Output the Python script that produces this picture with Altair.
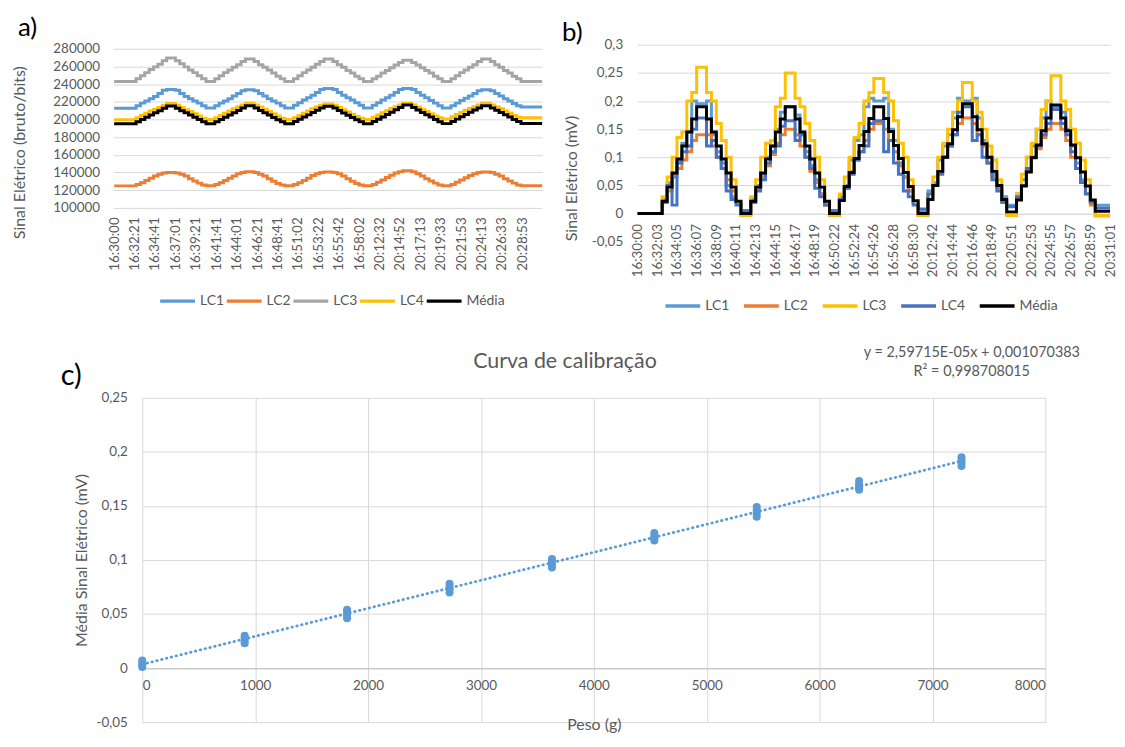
import altair as alt
import pandas as pd

FONT = "Lato"
TXT = "#595959"
GRID = "#D9D9D9"

# ---------------- shared time grid (sample index of each step) ----------------
T_STEPS = [0,
           15, 18, 21, 24, 27, 30, 33, 36, 42, 45, 48, 51, 54, 57, 60, 63,
           69, 72, 75, 78, 81, 84, 87, 90, 96, 99, 102, 105, 108, 111, 114, 117,
           123, 126, 129, 132, 135, 138, 141, 144, 150, 153, 156, 159, 162, 165, 168, 171,
           177, 180, 183, 186, 189, 192, 195, 198, 204, 207, 210, 213, 216, 219, 222, 225,
           231, 234, 237, 240, 243, 246, 249, 252, 258, 261, 264, 267, 270, 273, 276, 279]
T_END_A = 293.5
T_END_B = 288

LABELS_A = ["16:30:00", "16:32:21", "16:34:41", "16:37:01", "16:39:21", "16:41:41",
            "16:44:01", "16:46:21", "16:48:41", "16:51:02", "16:53:22", "16:55:42",
            "16:58:02", "20:12:32", "20:14:52", "20:17:13", "20:19:33", "20:21:53",
            "20:24:13", "20:26:33", "20:28:53"]
LABELS_B = ["16:30:00", "16:32:03", "16:34:05", "16:36:07", "16:38:09", "16:40:11",
            "16:42:13", "16:44:15", "16:46:17", "16:48:19", "16:50:22", "16:52:24",
            "16:54:26", "16:56:28", "16:58:30", "20:12:42", "20:14:44", "20:16:46",
            "20:18:49", "20:20:51", "20:22:53", "20:24:55", "20:26:57", "20:28:59",
            "20:31:01"]
LABEL_STEP_A = 14
LABEL_STEP_B = 12

SERIES = ["LC1", "LC2", "LC3", "LC4", "Média"]
COLORS_A = ["#5B9BD5", "#ED7D31", "#A5A5A5", "#FFC000", "#000000"]
COLORS_B = ["#5B9BD5", "#ED7D31", "#FFC000", "#4472C4", "#000000"]

# ---------------- panel a: raw signal (bits) ----------------
A_LC1 = [212700,
         215500, 218500, 221000, 223500, 226000, 229500, 233000, 234000, 233000, 229500, 226000, 223500, 221000, 218500, 215500, 213000,
         215500, 218500, 221000, 223500, 226500, 229500, 232500, 233500, 232500, 229500, 226500, 223500, 221000, 218500, 215500, 213000,
         216000, 219000, 222000, 224500, 227500, 230500, 234000, 235000, 234000, 230500, 227500, 224500, 222000, 219000, 216000, 213000,
         216000, 219000, 222000, 224500, 227500, 230500, 234000, 235000, 234000, 230500, 227500, 224500, 221500, 218500, 215500, 213000,
         215500, 218500, 221500, 224000, 226500, 229500, 232500, 233500, 232500, 229500, 226500, 223500, 221000, 218000, 215500, 214000]
A_LC2 = [124900,
         126500, 128500, 131000, 133500, 136000, 138000, 139500, 140000, 139500, 138000, 136000, 133000, 130500, 128000, 126000, 125000,
         126500, 128500, 131000, 133500, 136000, 138500, 140000, 141000, 140000, 138000, 136000, 133000, 130000, 127500, 126000, 125000,
         126500, 128500, 131000, 133500, 136500, 138500, 140000, 140500, 140000, 138500, 136000, 133000, 130000, 127500, 126000, 125000,
         126500, 129000, 131500, 134500, 137000, 139500, 141000, 142000, 141000, 138500, 136000, 133000, 130500, 128000, 126000, 125000,
         126500, 129000, 131500, 134000, 136500, 138500, 140000, 140500, 140000, 138000, 136000, 133000, 130500, 128000, 126000, 125000]
A_LC3 = [243000,
         246000, 249500, 253000, 256500, 259500, 262500, 266500, 269500, 266500, 263000, 259500, 256000, 253000, 249500, 246000, 243000,
         246000, 249500, 253000, 256000, 259000, 262000, 265500, 268500, 265500, 262000, 259000, 256000, 252500, 249000, 246000, 243000,
         246000, 249500, 253000, 256000, 259000, 262500, 265500, 268500, 265500, 262000, 259000, 255500, 252500, 249000, 246000, 243000,
         246000, 249000, 252500, 255500, 258500, 261500, 264500, 267000, 264500, 261500, 258500, 255500, 252500, 249000, 246000, 243000,
         246000, 249500, 253000, 256000, 259000, 262000, 265500, 268500, 265500, 262000, 259000, 255500, 252500, 249000, 246000, 243000]
A_LC4 = [199600,
         202000, 204500, 207000, 209500, 211500, 213500, 216000, 218000, 216000, 213500, 211000, 209000, 206500, 204000, 201500, 200000,
         202000, 204500, 207000, 209500, 212000, 214000, 216500, 218500, 216500, 214000, 211500, 209000, 206500, 204000, 201500, 200000,
         202000, 204500, 207000, 209500, 212000, 214000, 216000, 217500, 216000, 213500, 211000, 208500, 206000, 203500, 201500, 200000,
         202500, 205000, 207500, 210000, 212500, 214500, 216500, 218500, 216500, 214000, 211500, 209000, 206500, 204000, 202000, 200500,
         203000, 205500, 208000, 210500, 212500, 214500, 216500, 218500, 216500, 214500, 212000, 209500, 207000, 204500, 202500, 202000]
A_MEDIA = [195100,
           197500, 200000, 202500, 205000, 207500, 210000, 212800, 215300, 212800, 210000, 207500, 205000, 202500, 200000, 197500, 195200,
           197500, 200000, 202500, 205000, 207600, 210200, 213000, 215500, 213000, 210200, 207600, 205000, 202300, 199800, 197500, 195200,
           197600, 200200, 202800, 205200, 207800, 210400, 212900, 215000, 212900, 210100, 207400, 204800, 202200, 199700, 197400, 195200,
           197700, 200300, 202900, 205500, 208200, 210900, 213600, 216300, 213600, 210600, 207900, 205300, 202700, 199900, 197400, 195300,
           197800, 200400, 203000, 205600, 208100, 210600, 213100, 215500, 213100, 210500, 208000, 205400, 202800, 200100, 197600, 195500]

# ---------------- panel b: signal in mV ----------------
B_LC1 = [0.0,
         0.02, 0.055, 0.065, 0.095, 0.125, 0.145, 0.2, 0.195, 0.2, 0.14, 0.11, 0.09, 0.05, 0.03, 0.02, 0.005,
         0.025, 0.05, 0.07, 0.1, 0.12, 0.15, 0.18, 0.19, 0.175, 0.14, 0.11, 0.085, 0.06, 0.035, 0.02, 0.005,
         0.03, 0.05, 0.095, 0.13, 0.14, 0.19, 0.205, 0.2, 0.205, 0.15, 0.13, 0.09, 0.065, 0.04, 0.02, 0.005,
         0.04, 0.055, 0.095, 0.12, 0.14, 0.17, 0.205, 0.2, 0.205, 0.17, 0.13, 0.1, 0.07, 0.05, 0.03, 0.015,
         0.035, 0.06, 0.1, 0.12, 0.15, 0.17, 0.2, 0.19, 0.18, 0.15, 0.12, 0.09, 0.06, 0.035, 0.02, 0.015]
B_LC2 = [0.0,
         0.025, 0.04, 0.07, 0.08, 0.095, 0.11, 0.13, 0.14, 0.14, 0.12, 0.1, 0.08, 0.06, 0.04, 0.02, -0.003,
         0.02, 0.045, 0.065, 0.085, 0.105, 0.125, 0.14, 0.15, 0.14, 0.12, 0.1, 0.075, 0.055, 0.035, 0.015, -0.003,
         0.025, 0.045, 0.075, 0.095, 0.11, 0.13, 0.15, 0.16, 0.15, 0.13, 0.11, 0.085, 0.065, 0.04, 0.02, -0.003,
         0.025, 0.05, 0.075, 0.1, 0.12, 0.14, 0.16, 0.17, 0.16, 0.14, 0.12, 0.09, 0.065, 0.045, 0.02, -0.003,
         0.025, 0.05, 0.075, 0.1, 0.115, 0.135, 0.15, 0.16, 0.15, 0.13, 0.1, 0.08, 0.055, 0.035, 0.015, -0.004]
B_LC3 = [0.0,
         0.03, 0.065, 0.1, 0.135, 0.145, 0.2, 0.215, 0.26, 0.215, 0.2, 0.16, 0.13, 0.1, 0.06, 0.02, -0.003,
         0.03, 0.06, 0.1, 0.125, 0.13, 0.19, 0.205, 0.25, 0.205, 0.19, 0.16, 0.13, 0.1, 0.06, 0.02, -0.003,
         0.035, 0.065, 0.1, 0.135, 0.16, 0.2, 0.215, 0.24, 0.215, 0.2, 0.165, 0.125, 0.1, 0.06, 0.02, -0.003,
         0.035, 0.065, 0.1, 0.125, 0.15, 0.18, 0.2, 0.233, 0.2, 0.18, 0.15, 0.12, 0.095, 0.06, 0.025, -0.003,
         0.035, 0.07, 0.1, 0.125, 0.15, 0.185, 0.2, 0.245, 0.2, 0.185, 0.15, 0.125, 0.095, 0.06, 0.02, -0.004]
B_LC4 = [0.0,
         0.02, 0.05, 0.015, 0.09, 0.11, 0.12, 0.15, 0.17, 0.12, 0.13, 0.1, 0.08, 0.04, 0.025, 0.015, 0.005,
         0.02, 0.04, 0.06, 0.09, 0.11, 0.12, 0.155, 0.165, 0.13, 0.14, 0.1, 0.08, 0.045, 0.03, 0.015, 0.005,
         0.025, 0.045, 0.07, 0.095, 0.11, 0.12, 0.16, 0.165, 0.11, 0.13, 0.09, 0.07, 0.04, 0.03, 0.015, 0.008,
         0.035, 0.05, 0.07, 0.1, 0.12, 0.14, 0.18, 0.19, 0.13, 0.14, 0.1, 0.09, 0.06, 0.04, 0.02, 0.012,
         0.03, 0.05, 0.08, 0.1, 0.12, 0.14, 0.16, 0.185, 0.16, 0.14, 0.11, 0.08, 0.055, 0.035, 0.02, 0.01]
B_MEDIA = [0.0,
           0.022, 0.047, 0.072, 0.097, 0.12, 0.145, 0.168, 0.19, 0.168, 0.145, 0.12, 0.097, 0.072, 0.047, 0.022, 0.0,
           0.022, 0.047, 0.072, 0.097, 0.12, 0.145, 0.168, 0.19, 0.168, 0.145, 0.12, 0.097, 0.072, 0.047, 0.022, 0.0,
           0.023, 0.048, 0.073, 0.098, 0.121, 0.146, 0.169, 0.19, 0.169, 0.146, 0.121, 0.098, 0.073, 0.048, 0.023, 0.0,
           0.025, 0.05, 0.075, 0.1, 0.124, 0.149, 0.172, 0.195, 0.172, 0.149, 0.124, 0.1, 0.075, 0.05, 0.025, 0.003,
           0.024, 0.049, 0.074, 0.099, 0.122, 0.147, 0.17, 0.193, 0.17, 0.147, 0.122, 0.099, 0.074, 0.049, 0.024, 0.004]

# ---------------- panel c: calibration points ----------------
PESO = [0, 907, 1814, 2722, 3629, 4536, 5443, 6350, 7257]
SINAL = [[0.001, 0.003, 0.005, 0.007],
         [0.023, 0.025, 0.028, 0.030],
         [0.046, 0.049, 0.052, 0.054],
         [0.070, 0.073, 0.075, 0.078],
         [0.093, 0.096, 0.099, 0.101],
         [0.118, 0.120, 0.122, 0.125],
         [0.140, 0.143, 0.146, 0.149],
         [0.165, 0.167, 0.170, 0.173],
         [0.187, 0.190, 0.192, 0.195]]
EQ_TEXT = "y = 2,59715E-05x + 0,001070383"
R2_TEXT = "R² = 0,998708015"

Y_TICKS_A = [100000, 120000, 140000, 160000, 180000, 200000, 220000, 240000, 260000, 280000]
Y_TICKS_B = [-0.05, 0, 0.05, 0.1, 0.15, 0.2, 0.25, 0.3]
Y_TICKS_C = [-0.05, 0, 0.05, 0.1, 0.15, 0.2, 0.25]
X_TICKS_C = [0, 1000, 2000, 3000, 4000, 5000, 6000, 7000, 8000]


def step_frame(series_lists, t_end):
    rows = []
    for name, vals in zip(SERIES, series_lists):
        for t, v in zip(T_STEPS + [t_end], vals + [vals[-1]]):
            rows.append({"t": t, "v": v, "s": name})
    return pd.DataFrame(rows)


df_a = step_frame([A_LC1, A_LC2, A_LC3, A_LC4, A_MEDIA], T_END_A)
df_b = step_frame([B_LC1, B_LC2, B_LC3, B_LC4, B_MEDIA], T_END_B)
df_c = pd.DataFrame([{"peso": p, "sinal": s} for p, ss in zip(PESO, SINAL) for s in ss])

comma_expr = "replace(replace(format(datum.value, '.2~f'), '.', ','), '\u2212', '-')"


def label_lookup(labels, step):
    arr = ",".join("'" + x + "'" for x in labels)
    return "[" + arr + "][round(datum.value / " + str(step) + ")]"


one = alt.Data(values=[{}])

# ---------------- panel a ----------------
WA, HA = 431, 164
lines_a = alt.Chart(df_a).mark_line(interpolate="step-after", strokeWidth=3).encode(
    x=alt.X("t:Q", scale=alt.Scale(domain=[-0.5, T_END_A], nice=False, zero=False),
            axis=alt.Axis(values=[i * LABEL_STEP_A for i in range(len(LABELS_A))],
                          labelExpr=label_lookup(LABELS_A, LABEL_STEP_A),
                          labelAngle=270, grid=False, domain=False, labelPadding=9,
                          labelOverlap=False, title=None)),
    y=alt.Y("v:Q", scale=alt.Scale(domain=[100000, 284500], nice=False, zero=False),
            axis=alt.Axis(values=Y_TICKS_A, format="d", grid=True, domain=False,
                          labelPadding=14, title="Sinal Elétrico (bruto/bits)",
                          titleX=-94, titleY=108, titleBaseline="middle", titleAngle=270)),
    color=alt.Color("s:N", scale=alt.Scale(domain=SERIES, range=COLORS_A),
                    legend=alt.Legend(orient="none", legendX=45, legendY=238,
                                      direction="horizontal", columns=5, title=None,
                                      symbolType="stroke", symbolSize=1225,
                                      symbolStrokeWidth=3.5, columnPadding=-6,
                                      labelOffset=3, padding=0)),
)
tag_a = alt.Chart(one).mark_text(text="a)", align="left", baseline="alphabetic",
                                 fontSize=26, color="black").encode(
    x=alt.value(-96), y=alt.value(-9))
frame_a = alt.Chart(one).mark_rule(strokeOpacity=0, opacity=0).encode(
    x=alt.value(-106), y=alt.value(-35), y2=alt.value(292))
panel_a = alt.layer(lines_a, tag_a, frame_a).properties(width=WA, height=HA)

# ---------------- panel b ----------------
WB, HB = 475, 198
lines_b = alt.Chart(df_b).mark_line(interpolate="step-after", strokeWidth=3).encode(
    x=alt.X("t:Q", scale=alt.Scale(domain=[0, T_END_B], nice=False, zero=False),
            axis=alt.Axis(values=[i * LABEL_STEP_B for i in range(len(LABELS_B))],
                          labelExpr=label_lookup(LABELS_B, LABEL_STEP_B),
                          labelAngle=270, grid=False, domain=True, labelPadding=10,
                          offset=-HB * 0.05 / 0.35, labelOverlap=False, title=None)),
    y=alt.Y("v:Q", scale=alt.Scale(domain=[-0.05, 0.3], nice=False, zero=False),
            axis=alt.Axis(values=Y_TICKS_B, labelExpr=comma_expr, grid=True, domain=False,
                          gridOpacity=alt.condition("datum.value < -0.01", alt.value(0), alt.value(1)),
                          labelPadding=15, title="Sinal Elétrico (mV)",
                          titleX=-66, titleY=134, titleBaseline="middle", titleAngle=270)),
    color=alt.Color("s:N", scale=alt.Scale(domain=SERIES, range=COLORS_B),
                    legend=alt.Legend(orient="none", legendX=26, legendY=243,
                                      direction="horizontal", columns=5, title=None,
                                      symbolType="stroke", symbolSize=1225,
                                      symbolStrokeWidth=3.5, columnPadding=7,
                                      labelOffset=3, padding=0)),
)
tag_b = alt.Chart(one).mark_text(text="b)", align="left", baseline="alphabetic",
                                 fontSize=26, color="black").encode(
    x=alt.value(-76), y=alt.value(-4))
panel_b = alt.layer(lines_b, tag_b).properties(width=WB, height=HB)

row1 = alt.hconcat(panel_a, panel_b, spacing=96, bounds="flush").resolve_scale(
    color="independent").resolve_legend(color="independent")

# ---------------- panel c ----------------
# plot origin shared with panel a (vconcat aligns origins); data range starts 29px in
C_SHIFT = 29
WC, HC = 937, 326
xc = alt.X("peso:Q", scale=alt.Scale(domain=[0, 8000], nice=False, range=[C_SHIFT, WC]),
           axis=alt.Axis(values=X_TICKS_C, format="d", grid=True, domain=True,
                         domainColor="#C8C8C8", domainWidth=1.3,
                         offset=-HC * 0.05 / 0.30, labelPadding=11,
                         title="Peso (g)", titleY=57, titleBaseline="middle"))
yc = alt.Y("sinal:Q", scale=alt.Scale(domain=[-0.05, 0.25], nice=False, zero=False),
           axis=alt.Axis(values=Y_TICKS_C, labelExpr=comma_expr, grid=True, domain=False,
                         offset=-C_SHIFT, labelPadding=15, title="Média Sinal Elétrico (mV)",
                         titleX=-61, titleBaseline="middle", titleAngle=270))
trend = alt.Chart(df_c).transform_regression("peso", "sinal").mark_line(
    color="#5B9BD5", strokeWidth=2.8, strokeDash=[0.5, 4.5], strokeCap="round").encode(x=xc, y=yc)
pts = alt.Chart(df_c).mark_circle(size=65, color="#5B9BD5", opacity=1).encode(x=xc, y=yc)
title_c = alt.Chart(one).mark_text(text="Curva de calibração", align="center", baseline="middle",
                                   fontSize=21.5, color=TXT).encode(x=alt.value(454), y=alt.value(-36))
eq_c = alt.Chart(one).mark_text(text=EQ_TEXT, align="center", baseline="middle",
                                fontSize=14.5, color=TXT).encode(x=alt.value(863), y=alt.value(-45))
r2_c = alt.Chart(one).mark_text(text=R2_TEXT, align="center", baseline="middle",
                                fontSize=14.5, color=TXT).encode(x=alt.value(863), y=alt.value(-26))
tag_c = alt.Chart(one).mark_text(text="c)", align="left", baseline="alphabetic",
                                 fontSize=29, color="black").encode(x=alt.value(-53), y=alt.value(-13))
frame_c = alt.Chart(one).mark_rule(strokeOpacity=0, opacity=0).encode(
    x=alt.value(100), y=alt.value(-58), y2=alt.value(0))
panel_c = alt.layer(trend, pts, title_c, eq_c, r2_c, tag_c, frame_c).properties(width=WC, height=HC)

chart = alt.vconcat(row1, panel_c, spacing=5).properties(
    padding=0, background="white").configure(
    font=FONT).configure_axis(
    labelFont=FONT, titleFont=FONT, labelColor=TXT, titleColor=TXT,
    labelFontSize=13.5, titleFontSize=16, titleFontWeight="normal",
    ticks=False, gridColor=GRID, domainColor=GRID).configure_legend(
    labelFont=FONT, labelColor=TXT, labelFontSize=14).configure_text(
    font=FONT).configure_view(stroke=None)

chart.save("out.html", embed_options={"renderer": "svg", "actions": False})
